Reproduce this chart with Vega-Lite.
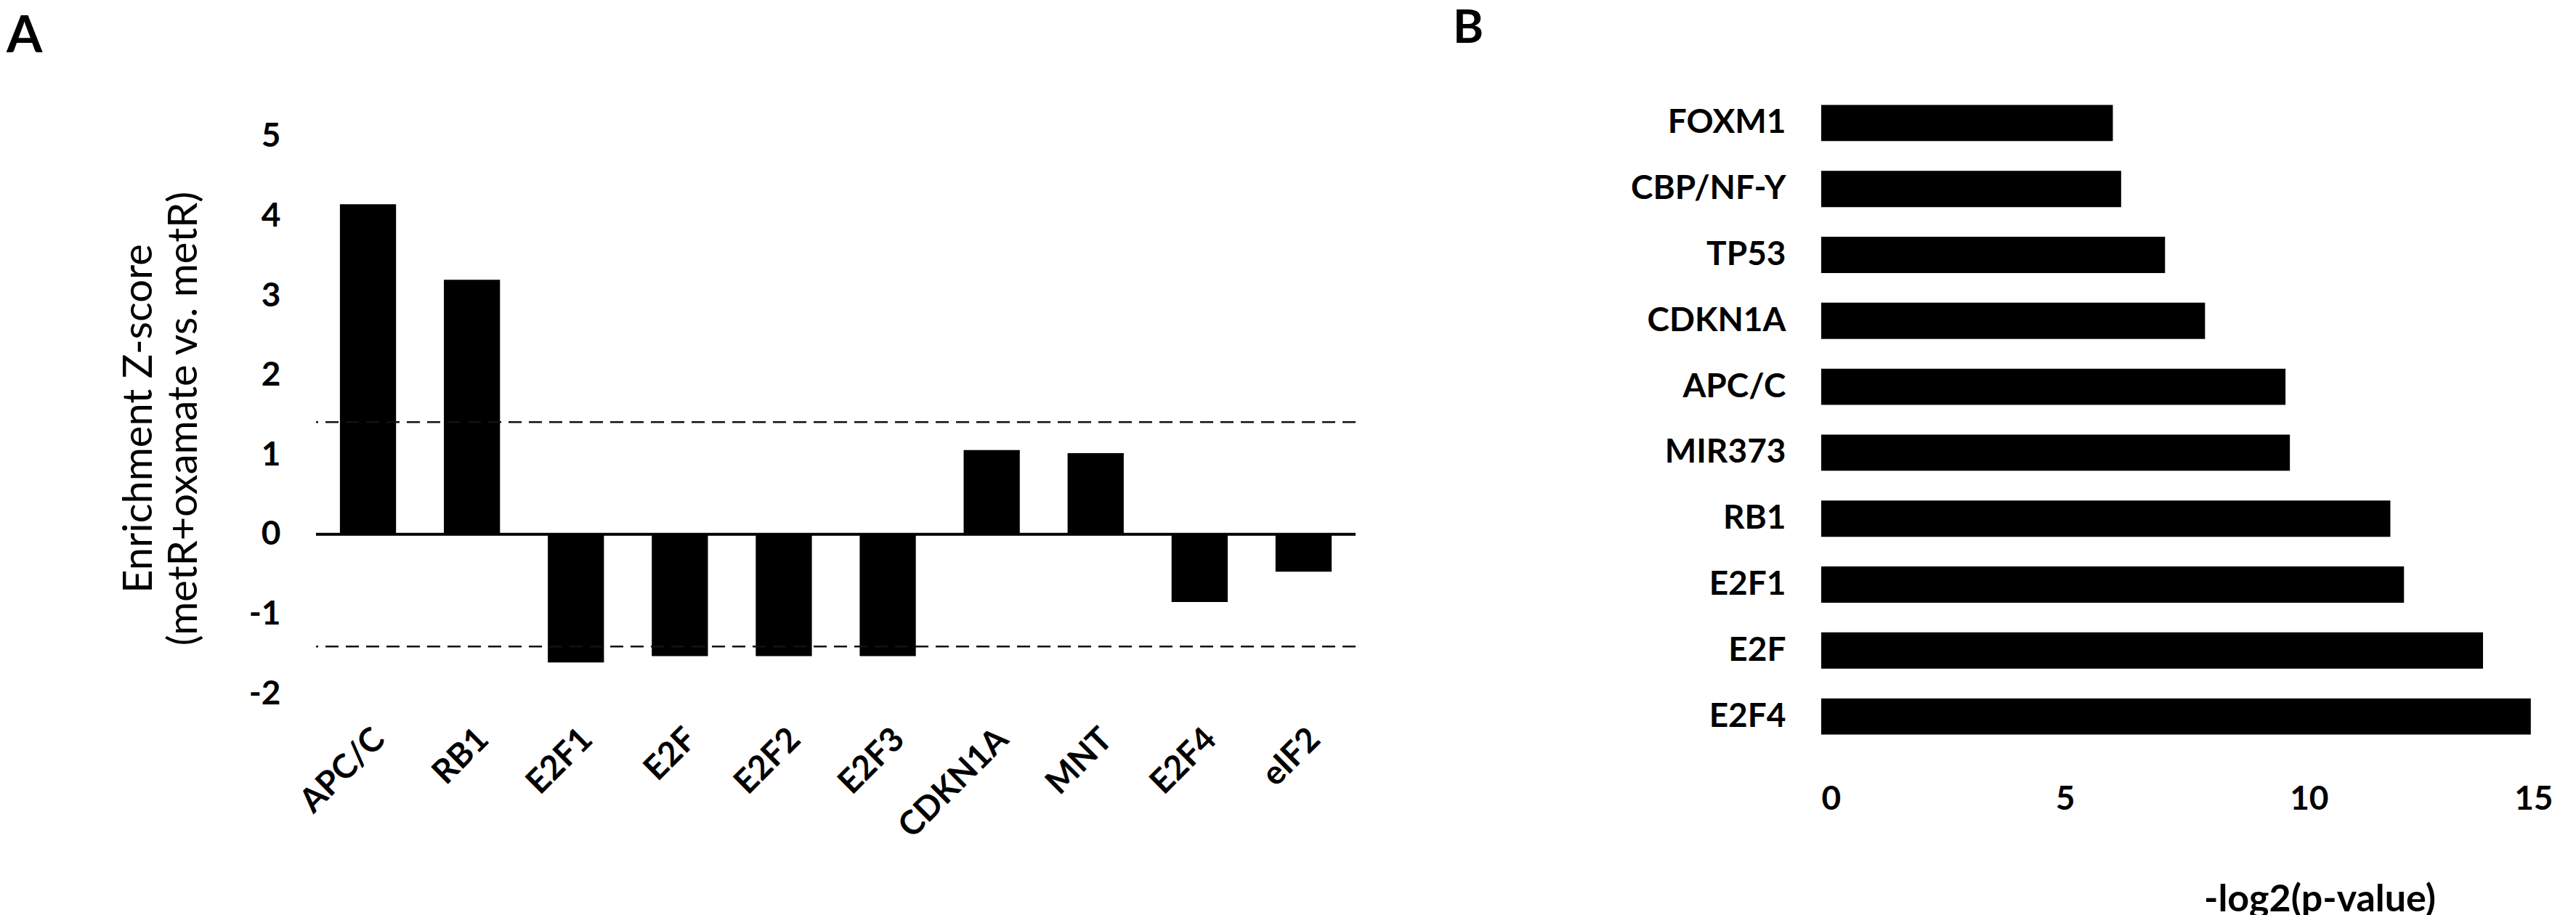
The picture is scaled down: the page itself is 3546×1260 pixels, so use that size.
{
  "$schema": "https://vega.github.io/schema/vega-lite/v6.json",
  "padding": {"left": 9, "top": 8, "right": 0, "bottom": 0},
  "background": "white",
  "bounds": "flush",
  "spacing": 641,
  "config": {
    "font": "Lato",
    "view": {"stroke": null},
    "axis": {"grid": false, "ticks": false, "domain": false, "labelColor": "black", "titleColor": "black", "labelFontWeight": "bold", "labelFontSize": 46, "labelLimit": 0}
  },
  "datasets": {
    "panelA": [
      {"pathway": "APC/C", "zscore": 4.15},
      {"pathway": "RB1", "zscore": 3.2},
      {"pathway": "E2F1", "zscore": -1.61},
      {"pathway": "E2F", "zscore": -1.53},
      {"pathway": "E2F2", "zscore": -1.53},
      {"pathway": "E2F3", "zscore": -1.53},
      {"pathway": "CDKN1A", "zscore": 1.06},
      {"pathway": "MNT", "zscore": 1.02},
      {"pathway": "E2F4", "zscore": -0.85},
      {"pathway": "eIF2", "zscore": -0.47}
    ],
    "thresholdsA": [{"z": 1.41}, {"z": -1.41}],
    "baselineA": [{"z": 0}],
    "panelB": [
      {"regulator": "FOXM1", "neglog2p": 5.98},
      {"regulator": "CBP/NF-Y", "neglog2p": 6.15},
      {"regulator": "TP53", "neglog2p": 7.05},
      {"regulator": "CDKN1A", "neglog2p": 7.87},
      {"regulator": "APC/C", "neglog2p": 9.52},
      {"regulator": "MIR373", "neglog2p": 9.61},
      {"regulator": "RB1", "neglog2p": 11.67},
      {"regulator": "E2F1", "neglog2p": 11.95},
      {"regulator": "E2F", "neglog2p": 13.57},
      {"regulator": "E2F4", "neglog2p": 14.55}
    ]
  },
  "hconcat": [
    {
      "width": 1431,
      "height": 831,
      "title": {"text": "A", "anchor": "start", "frame": "group", "dx": -426, "offset": -19, "baseline": "alphabetic", "fontSize": 71, "fontWeight": "bold", "color": "black"},
      "layer": [
        {
          "data": {"name": "panelA"},
          "mark": {"type": "bar", "color": "black"},
          "encoding": {
            "x": {"field": "pathway", "type": "nominal", "sort": null,
                  "scale": {"paddingInner": 0.46, "paddingOuter": 0.23},
                  "axis": {"title": null, "labelAngle": -45, "labelPadding": 40}},
            "y": {"field": "zscore", "type": "quantitative",
                  "scale": {"domain": [-2, 5.584], "nice": false, "zero": false},
                  "axis": {"values": [-2, -1, 0, 1, 2, 3, 4, 5], "labelExpr": "toString(datum.value)", "labelPadding": 49,
                           "title": ["Enrichment Z-score", "(metR+oxamate vs. metR)"],
                           "titleFontSize": 56, "titleFontWeight": "normal", "titleLineHeight": 62,
                           "titlePadding": 60, "titleY": 452}}
          }
        },
        {
          "data": {"name": "thresholdsA"},
          "mark": {"type": "rule", "color": "#111111", "strokeWidth": 2.5, "strokeDash": [18, 10]},
          "encoding": {"y": {"field": "z", "type": "quantitative"}}
        },
        {
          "data": {"name": "baselineA"},
          "mark": {"type": "rule", "color": "black", "strokeWidth": 4},
          "encoding": {"y": {"field": "z", "type": "quantitative"}}
        }
      ]
    },
    {
      "width": 1007,
      "height": 908,
      "title": {"text": "B", "anchor": "start", "frame": "group", "dx": -507, "offset": 1, "baseline": "alphabetic", "fontSize": 64, "fontWeight": "bold", "color": "black"},
      "data": {"name": "panelB"},
      "mark": {"type": "bar", "color": "black"},
      "encoding": {
        "y": {"field": "regulator", "type": "nominal", "sort": null,
              "scale": {"paddingInner": 0.45, "paddingOuter": 0.225},
              "axis": {"title": null, "labelPadding": 49}},
        "x": {"field": "neglog2p", "type": "quantitative",
              "scale": {"domain": [0, 15], "nice": false},
              "axis": {"values": [0, 5, 10, 15], "labelPadding": 46, "title": "-log2(p-value)",
                       "titleFontSize": 52, "titleFontWeight": "bold", "titleX": 686, "titleAlign": "center", "titlePadding": 90}}
      }
    }
  ]
}
